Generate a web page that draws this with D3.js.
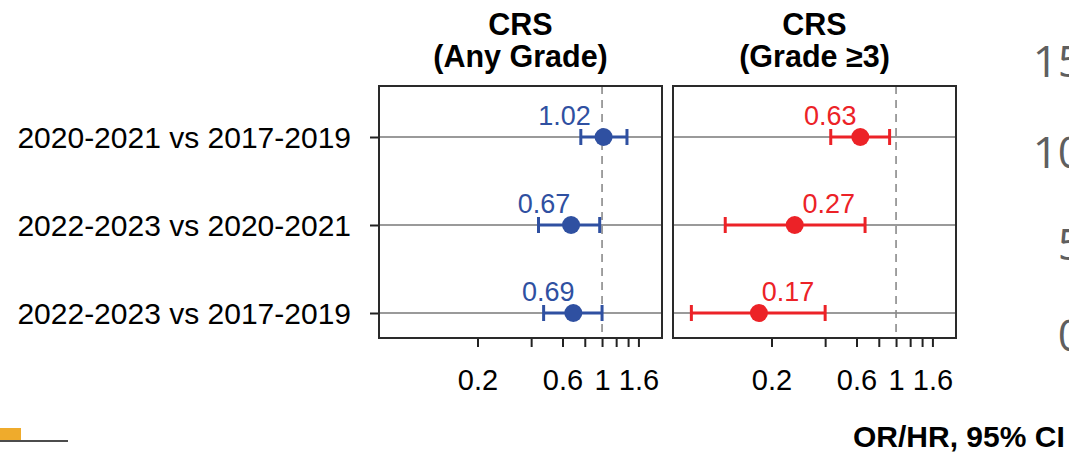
<!DOCTYPE html>
<html>
<head>
<meta charset="utf-8">
<script src="https://cdn.jsdelivr.net/npm/d3@7"></script>
<style>
  html, body { margin: 0; padding: 0; background: #fff; }
  svg { display: block; font-family: "Liberation Sans", Arial, Helvetica, sans-serif; }
</style>
</head>
<body>
<svg id="chart" width="1069" height="452"></svg>
<script>
// Comparisons (rows, top to bottom)
const comparisons = ["2020-2021 vs 2017-2019", "2022-2023 vs 2020-2021", "2022-2023 vs 2017-2019"];

// Panel headers
const panelTitles = [["CRS", "(Any Grade)"], ["CRS", "(Grade \u22653)"]];

// CRS, any grade: point estimate and 95% CI
const anyEstimate = [1.02, 0.67, 0.69];
const anyLower    = [0.76, 0.44, 0.47];
const anyUpper    = [1.38, 0.97, 1.00];

// CRS, grade >=3: point estimate and 95% CI
const g3Estimate = [0.63, 0.27, 0.17];
const g3Lower    = [0.43, 0.11, 0.071];
const g3Upper    = [0.92, 0.67, 0.40];

// Log-axis ticks and the ones that carry labels
const tickValues = [0.2, 0.4, 0.6, 0.8, 1, 1.2, 1.4, 1.6];
const labelledTicks = [0.2, 0.6, 1, 1.6];

const xDomain = [0.056, 2.17];

// Axis values of the neighbouring chart that runs off the right edge
const sideValues = ["15", "10", "5", "0"];

const svg = d3.select("#chart");

const panels = [
  { x0: 379, x1: 662, color: "#2f50a1", est: anyEstimate, lo: anyLower, hi: anyUpper, title: panelTitles[0], labelDx: [-39, -27, -25] },
  { x0: 673, x1: 956, color: "#ec2227", est: g3Estimate, lo: g3Lower, hi: g3Upper, title: panelTitles[1], labelDx: [-30, 34, 29] }
];
const panelTop = 86, panelBottom = 338;

const y = d3.scalePoint().domain(comparisons).range([137, 313]);

panels.forEach((p, pi) => {
  const x = d3.scaleLog().domain(xDomain).range([p.x0, p.x1]);
  const g = svg.append("g");

  // header
  const cx = (p.x0 + p.x1) / 2;
  g.selectAll("text.title").data(p.title).join("text")
    .attr("x", cx).attr("y", (d, i) => 35 + i * 32)
    .attr("text-anchor", "middle")
    .attr("font-size", 30.5).attr("font-weight", "bold").attr("fill", "#000")
    .text(d => d);

  // row guide lines
  g.selectAll("line.row").data(comparisons).join("line")
    .attr("x1", p.x0).attr("x2", p.x1)
    .attr("y1", d => y(d)).attr("y2", d => y(d))
    .attr("stroke", "#9a9a9a").attr("stroke-width", 2);

  // null reference line
  g.append("line")
    .attr("x1", x(1)).attr("x2", x(1)).attr("y1", panelTop).attr("y2", panelBottom)
    .attr("stroke", "#8a8a8a").attr("stroke-width", 1.6)
    .attr("stroke-dasharray", "8,6");

  // x axis
  const xAxis = d3.axisBottom(x)
    .tickValues(tickValues)
    .tickFormat(d => labelledTicks.includes(d) ? d3.format("")(d) : "")
    .tickSize(9).tickSizeOuter(0);
  const ax = g.append("g").attr("transform", `translate(0,${panelBottom})`).call(xAxis);
  ax.select(".domain").remove();
  ax.selectAll(".tick line").attr("stroke", "#222").attr("stroke-width", 2);
  ax.selectAll(".tick text")
    .attr("font-size", 29).attr("fill", "#000").attr("font-family", null)
    .attr("y", 52).attr("dy", null);

  // y axis (left panel only)
  if (pi === 0) {
    const yAxis = d3.axisLeft(y).tickSize(9).tickSizeOuter(0).tickPadding(19);
    const ay = g.append("g").attr("transform", `translate(${p.x0},0)`).call(yAxis);
    ay.select(".domain").remove();
    ay.selectAll(".tick line").attr("stroke", "#222").attr("stroke-width", 2);
    ay.selectAll(".tick text")
      .attr("font-size", 30).attr("fill", "#000").attr("font-family", null)
      .attr("dy", "0.35em");
  }

  const rows = comparisons.map((c, i) => ({ c, est: p.est[i], lo: p.lo[i], hi: p.hi[i], dx: p.labelDx[i] }));

  // confidence intervals
  g.selectAll("line.ci").data(rows).join("line")
    .attr("x1", d => x(d.lo)).attr("x2", d => x(d.hi))
    .attr("y1", d => y(d.c)).attr("y2", d => y(d.c))
    .attr("stroke", p.color).attr("stroke-width", 3);
  ["lo", "hi"].forEach(k => {
    g.selectAll("line.cap-" + k).data(rows).join("line")
      .attr("x1", d => x(d[k])).attr("x2", d => x(d[k]))
      .attr("y1", d => y(d.c) - 8).attr("y2", d => y(d.c) + 8)
      .attr("stroke", p.color).attr("stroke-width", 3);
  });

  // point estimates
  g.selectAll("circle.est").data(rows).join("circle")
    .attr("cx", d => x(d.est)).attr("cy", d => y(d.c)).attr("r", 9)
    .attr("fill", p.color);

  // value labels
  g.selectAll("text.val").data(rows).join("text")
    .attr("x", d => x(d.est) + d.dx).attr("y", d => y(d.c) - 12)
    .attr("text-anchor", "middle").attr("font-size", 27)
    .attr("fill", p.color)
    .text(d => d3.format(".2f")(d.est));

  // frame
  g.append("rect")
    .attr("x", p.x0).attr("y", panelTop)
    .attr("width", p.x1 - p.x0).attr("height", panelBottom - panelTop)
    .attr("fill", "none").attr("stroke", "#2a2a2a").attr("stroke-width", 2);
});

// axis caption
svg.append("text")
  .attr("x", 853).attr("y", 447)
  .attr("font-size", 30).attr("font-weight", "bold").attr("fill", "#000")
  .text("OR/HR, 95% CI");

// neighbouring chart fragments
const sideY = d3.scalePoint().domain(sideValues).range([77, 351]);
svg.selectAll("text.side").data(sideValues).join("text")
  .attr("x", 1083).attr("y", d => sideY(d))
  .attr("text-anchor", "end")
  .attr("font-family", "'Open Sans', 'Noto Sans', sans-serif")
  .attr("font-size", 44).attr("fill", "#5f5f5f")
  .text(d => d);

svg.append("rect").attr("x", 0).attr("y", 428).attr("width", 21).attr("height", 12).attr("fill", "#efab2c");
svg.append("line").attr("x1", 0).attr("x2", 68).attr("y1", 441).attr("y2", 441)
  .attr("stroke", "#111").attr("stroke-width", 1.6);
</script>
</body>
</html>
